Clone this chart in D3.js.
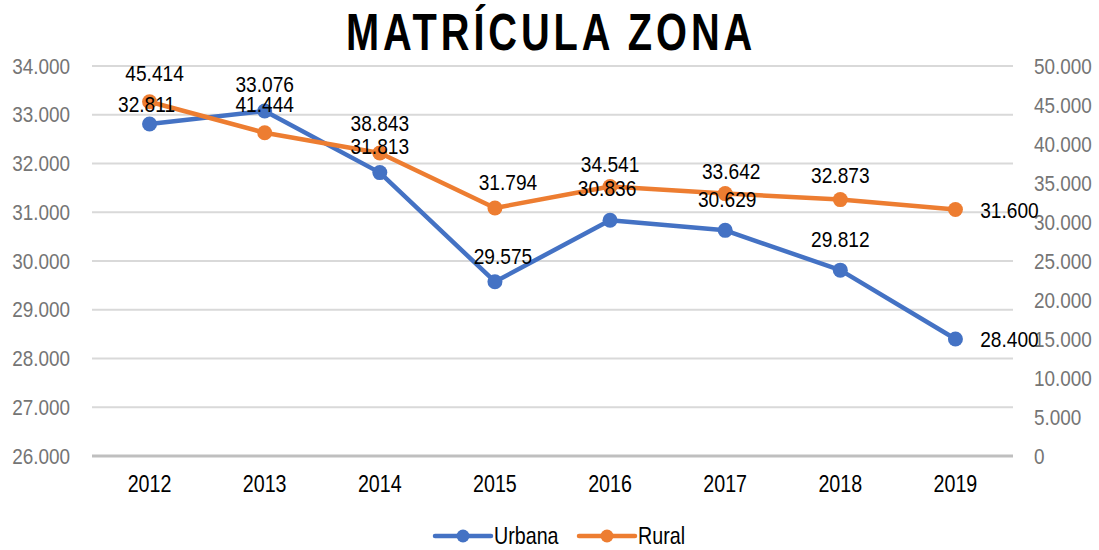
<!DOCTYPE html>
<html>
<head>
<meta charset="utf-8">
<script src="https://cdn.jsdelivr.net/npm/d3@7"></script>
<style>
  body { margin: 0; background: #fff; }
  svg text { font-family: "Liberation Sans", Arial, sans-serif; }
</style>
</head>
<body>
<div id="chart"></div>
<script>
// data
const years = ['2012', '2013', '2014', '2015', '2016', '2017', '2018', '2019'];
const urbana = [32811, 33076, 31813, 29575, 30836, 30629, 29812, 28400];
const rural = [45414, 41444, 38843, 31794, 34541, 33642, 32873, 31600];
const leftTicks = [26000, 27000, 28000, 29000, 30000, 31000, 32000, 33000, 34000];
const rightTicks = [0, 5000, 10000, 15000, 20000, 25000, 30000, 35000, 40000, 45000, 50000];

// label nudges (dx, dy of label centre from the point), as placed in the original
const urbanaLabelPos = [[-3, -20], [0, -27], [0, -27], [8, -26], [-3, -32], [2, -31], [0, -31], [54, 0]];
const ruralLabelPos = [[5, -29], [0, -29], [0, -30], [13, -26], [0, -23], [6, -23], [0, -25], [54, 1]];

const W = 1099, H = 550;
const margin = { top: 66, right: 86, bottom: 94, left: 92 };
const width = W - margin.left - margin.right;
const height = H - margin.top - margin.bottom;

const fmt = v => v === 0 ? '0' : d3.format(',')(v).replace(/,/g, '.');

// the original uses a narrow face; squeeze Liberation Sans horizontally
function narrow(sel, sx) {
    sel.each(function () {
        const t = d3.select(this);
        const x = +t.attr('x') || 0;
        const y = +t.attr('y') || 0;
        t.attr('x', 0).attr('y', 0)
            .attr('transform', `translate(${x}, ${y}) scale(${sx}, 1)`);
    });
}

const svg = d3.select('#chart')
    .append('svg')
    .attr('width', W)
    .attr('height', H);

// Title
svg.append('text')
    .attr('x', 551)
    .attr('y', 50)
    .attr('text-anchor', 'middle')
    .style('font-size', '51px')
    .style('font-weight', 'bold')
    .style('letter-spacing', '5px')
    .attr('fill', '#000')
    .text('MATRÍCULA ZONA')
    .call(narrow, 0.78);

const g = svg.append('g')
    .attr('transform', `translate(${margin.left}, ${margin.top})`);

const x = d3.scaleBand()
    .domain(years)
    .range([0, width]);

const yL = d3.scaleLinear().domain([26000, 34000]).range([height, 0]);
const yR = d3.scaleLinear().domain([0, 50000]).range([height, 0]);

// gridlines
g.append('g')
    .selectAll('line')
    .data(leftTicks)
    .enter()
    .append('line')
    .attr('x1', 0)
    .attr('x2', width)
    .attr('y1', d => yL(d))
    .attr('y2', d => yL(d))
    .attr('stroke', d => d === 26000 ? '#bfbfbf' : '#d9d9d9')
    .attr('stroke-width', d => d === 26000 ? 3 : 2);

// left axis
const axL = g.append('g')
    .call(d3.axisLeft(yL).tickValues(leftTicks).tickFormat(fmt).tickSize(0).tickPadding(22));
axL.select('.domain').remove();
axL.selectAll('text').style('font-size', '22px').attr('fill', '#757575').call(narrow, 0.86);

// right axis
const axR = g.append('g')
    .attr('transform', `translate(${width}, 0)`)
    .call(d3.axisRight(yR).tickValues(rightTicks).tickFormat(fmt).tickSize(0).tickPadding(21));
axR.select('.domain').remove();
axR.selectAll('text').style('font-size', '22px').attr('fill', '#757575').call(narrow, 0.86);

// bottom axis
const axB = g.append('g')
    .attr('transform', `translate(0, ${height})`)
    .call(d3.axisBottom(x).tickSize(0).tickPadding(19));
axB.select('.domain').remove();
axB.selectAll('text').style('font-size', '24px').attr('fill', '#000').call(narrow, 0.82);

const cx = d => x(d) + x.bandwidth() / 2;

const series = [
    { name: 'Urbana', values: urbana, pos: urbanaLabelPos, y: yL, color: '#4472C4' },
    { name: 'Rural', values: rural, pos: ruralLabelPos, y: yR, color: '#ED7D31' }
];

// lines and markers
series.forEach(s => {
    const pts = years.map((yr, i) => ({ yr: yr, v: s.values[i] }));
    const line = d3.line().x(d => cx(d.yr)).y(d => s.y(d.v));
    g.append('path')
        .datum(pts)
        .attr('d', line)
        .attr('fill', 'none')
        .attr('stroke', s.color)
        .attr('stroke-width', 4.5)
        .attr('stroke-linejoin', 'round');
    g.append('g')
        .selectAll('circle')
        .data(pts)
        .enter()
        .append('circle')
        .attr('cx', d => cx(d.yr))
        .attr('cy', d => s.y(d.v))
        .attr('r', 7.5)
        .attr('fill', s.color);
});

// data labels (drawn after both series so they sit on top)
series.forEach(s => {
    g.append('g')
        .selectAll('text')
        .data(years.map((yr, i) => ({ yr: yr, v: s.values[i], p: s.pos[i] })))
        .enter()
        .append('text')
        .attr('x', d => cx(d.yr) + d.p[0])
        .attr('y', d => s.y(d.v) + d.p[1])
        .attr('dy', '0.36em')
        .attr('text-anchor', 'middle')
        .style('font-size', '22px')
        .attr('fill', '#000')
        .text(d => fmt(d.v))
        .call(narrow, 0.87);
});

// legend
const legend = svg.append('g')
    .attr('transform', `translate(435, 536)`);
const legendItems = [
    { name: 'Urbana', color: '#4472C4', x: 0 },
    { name: 'Rural', color: '#ED7D31', x: 144 }
];
legendItems.forEach(d => {
    const item = legend.append('g').attr('transform', `translate(${d.x}, 0)`);
    item.append('line')
        .attr('x1', 0).attr('x2', 56)
        .attr('y1', 0).attr('y2', 0)
        .attr('stroke', d.color)
        .attr('stroke-width', 4.5)
        .attr('stroke-linecap', 'round');
    item.append('circle')
        .attr('cx', 28).attr('cy', 0).attr('r', 6.5)
        .attr('fill', d.color);
    item.append('text')
        .attr('x', 59).attr('y', 8)
        .style('font-size', '24px')
        .attr('fill', '#000')
        .text(d.name)
        .call(narrow, 0.82);
});
</script>
</body>
</html>
